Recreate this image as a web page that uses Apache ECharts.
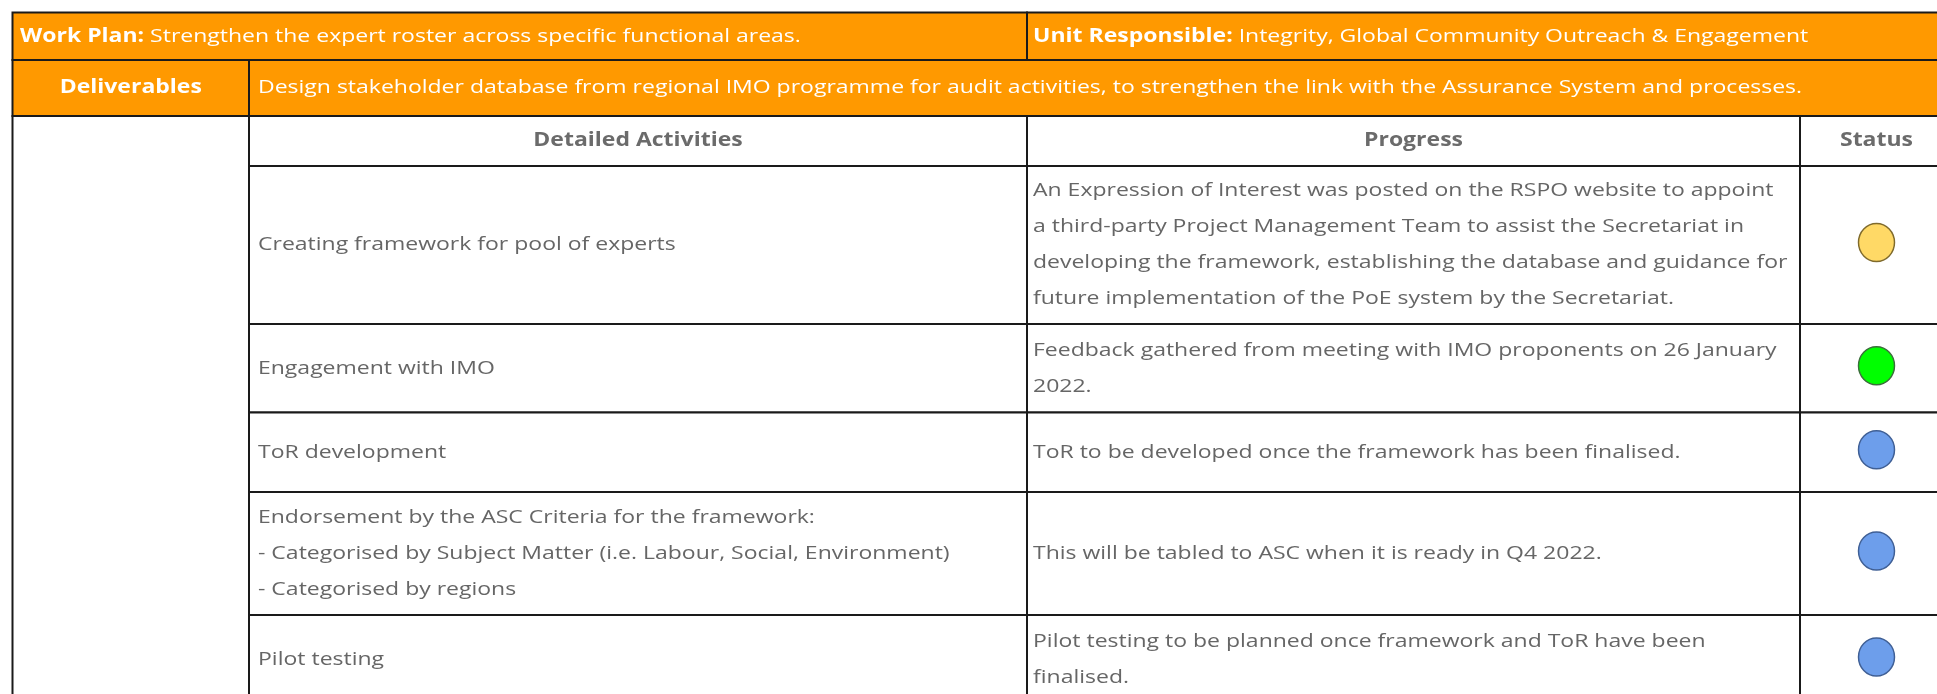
<!DOCTYPE html>
<html><head><meta charset="utf-8">
<script src="https://cdn.jsdelivr.net/npm/echarts@6/dist/echarts.min.js"></script>
<style>html,body{margin:0;padding:0;background:#fff}#c{width:1937px;height:694px}</style>
</head><body><div id="c"></div>
<script>
// ---------- content ----------
const workPlanLabel = 'Work Plan:';
const workPlan = 'Strengthen the expert roster across specific functional areas.';
const unitLabel = 'Unit Responsible:';
const unitResponsible = 'Integrity, Global Community Outreach & Engagement';
const deliverablesLabel = 'Deliverables';
const deliverable = 'Design stakeholder database from regional IMO programme for audit activities, to strengthen the link with the Assurance System and processes.';
const columnHeaders = ['Detailed Activities', 'Progress', 'Status'];
const activities = [
  'Creating framework for pool of experts',
  'Engagement with IMO',
  'ToR development',
  'Endorsement by the ASC Criteria for the framework:\n- Categorised by Subject Matter (i.e. Labour, Social, Environment)\n- Categorised by regions',
  'Pilot testing'
];
const progress = [
  'An Expression of Interest was posted on the RSPO website to appoint\na third-party Project Management Team to assist the Secretariat in\ndeveloping the framework, establishing the database and guidance for\nfuture implementation of the PoE system by the Secretariat.',
  'Feedback gathered from meeting with IMO proponents on 26 January\n2022.',
  'ToR to be developed once the framework has been finalised.',
  'This will be tabled to ASC when it is ready in Q4 2022.',
  'Pilot testing to be planned once framework and ToR have been\nfinalised.'
];
const statuses = ['amber', 'green', 'blue', 'blue', 'blue'];

// ---------- layout / style ----------
const W = 1937, H = 694;
const colX = [12.5, 249, 1027, 1800, 1953];
const rowY = [12.5, 60, 116, 166, 324, 412.5, 492, 615, 704];
const ORANGE = '#FF9900';
const TEXT_GRAY = '#666666';
const HEAD_GRAY = '#6b6b6b';
const FONT = '"Open Sans", sans-serif';
const FS = 19;
const SX = 1.21;   // horizontal stretch of the reference picture
const LH = 36;
const statusStyle = {
  amber: { fill: '#FFD966', stroke: '#7f6a2c' },
  green: { fill: '#00FF00', stroke: '#3a6f3a' },
  blue:  { fill: '#6D9EEB', stroke: '#3f5f95' }
};

// cells: [c0, c1, r0, r1, text, kind, padLeft]
const cells = [];
cells.push([0, 2, 0, 1, '{b|' + workPlanLabel + '} ' + workPlan, 'orangeLeft', 7.5]);
cells.push([2, 4, 0, 1, '{b|' + unitLabel + '} ' + unitResponsible, 'orangeLeft', 6]);
cells.push([0, 1, 1, 2, deliverablesLabel, 'orangeCenterBold', 0]);
cells.push([1, 4, 1, 2, deliverable, 'orangeLeft', 9]);
cells.push([0, 1, 2, 8, '', 'blank', 0]);
columnHeaders.forEach((h, i) => cells.push([i + 1, i + 2, 2, 3, h, 'head', 0]));
activities.forEach((a, i) => {
  cells.push([1, 2, 3 + i, 4 + i, a, 'body', 9]);
  cells.push([2, 3, 3 + i, 4 + i, progress[i], 'body', 6]);
  cells.push([3, 4, 3 + i, 4 + i, '', 'blank', 0]);
});

function renderCell(params, api) {
  const c = cells[api.value(0)];
  const p0 = api.coord([colX[c[0]], rowY[c[2]]]);
  const p1 = api.coord([colX[c[1]], rowY[c[3]]]);
  const x = p0[0], y = p0[1], w = p1[0] - p0[0], h = p1[1] - p0[1];
  const kind = c[5];
  const orange = kind.indexOf('orange') === 0;
  const bold = kind === 'orangeCenterBold' || kind === 'head';
  const children = [{
    type: 'rect',
    shape: { x: x, y: y, width: w, height: h },
    style: { fill: orange ? ORANGE : '#ffffff', stroke: '#1a1a1a', lineWidth: 2 }
  }];
  if (c[4]) {
    const center = bold;
    children.push({
      type: 'text',
      x: center ? x + w / 2 : x + c[6],
      y: y + h / 2,
      scaleX: SX,
      scaleY: 1,
      style: {
        text: c[4],
        fill: orange ? '#ffffff' : (kind === 'head' ? HEAD_GRAY : TEXT_GRAY),
        fontFamily: FONT,
        fontSize: FS,
        fontWeight: bold ? 'bold' : 'normal',
        lineHeight: LH,
        align: center ? 'center' : 'left',
        verticalAlign: 'middle',
        rich: { b: { fontWeight: 'bold', fontFamily: FONT, fontSize: FS, fill: '#ffffff', lineHeight: LH } }
      }
    });
  }
  return { type: 'group', children: children };
}

const statusData = statuses.map((s, i) => ({
  value: [(colX[3] + colX[4]) / 2, (rowY[3 + i] + rowY[4 + i]) / 2 - 2.5],
  itemStyle: { color: statusStyle[s].fill, borderColor: statusStyle[s].stroke, borderWidth: 1.5, opacity: 1 }
}));

const chart = echarts.init(document.getElementById('c'), null, { renderer: 'canvas', width: W, height: H });
chart.setOption({
  backgroundColor: '#ffffff',
  animation: false,
  grid: { left: 0, right: 0, top: 0, bottom: 0 },
  xAxis: { type: 'value', min: 0, max: W, show: false },
  yAxis: { type: 'value', min: 0, max: H, inverse: true, show: false },
  series: [
    {
      type: 'custom',
      renderItem: renderCell,
      data: cells.map((c, i) => [i]),
      encode: { x: -1, y: -1 },
      clip: false,
      silent: true
    },
    {
      type: 'scatter',
      symbol: 'circle',
      symbolSize: [36, 38],
      data: statusData,
      itemStyle: { opacity: 1 },
      silent: true,
      z: 5
    }
  ]
});
</script></body></html>
